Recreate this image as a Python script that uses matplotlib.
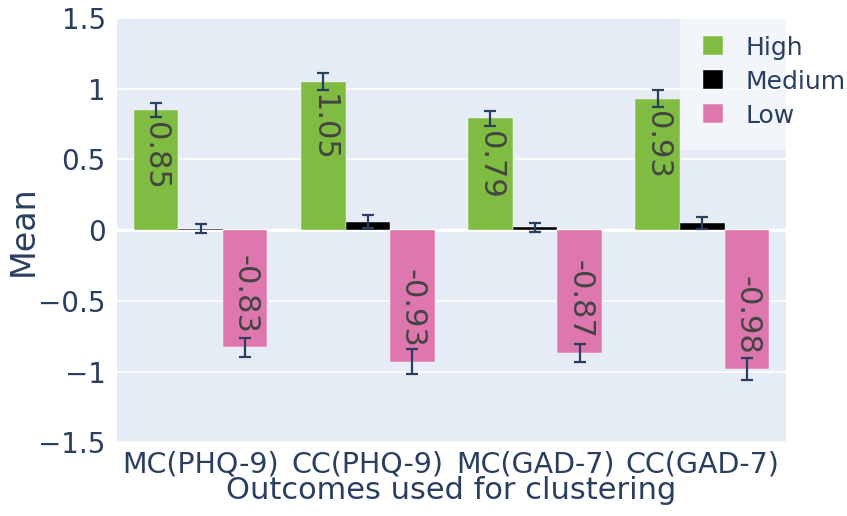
import numpy as np
import matplotlib.pyplot as plt
from matplotlib.patches import Rectangle

plt.rcParams['font.family'] = ['DejaVu Sans']

# data
categories = ["MC(PHQ-9)", "CC(PHQ-9)", "MC(GAD-7)", "CC(GAD-7)"]
series = ["High", "Medium", "Low"]
high = [0.85, 1.05, 0.79, 0.93]
medium = [0.01, 0.06, 0.02, 0.05]
low = [-0.83, -0.93, -0.87, -0.98]
high_err = [0.05, 0.06, 0.05, 0.06]
medium_err = [0.03, 0.045, 0.03, 0.045]
low_err = [0.07, 0.09, 0.065, 0.078]

colors = ["#7fbc41", "#000000", "#de77ae"]
fg = "#2a3f5f"

fig = plt.figure(figsize=(8.47, 5.16), dpi=100)
ax = fig.add_axes([0.138, 0.143, 0.79, 0.822])
ax.set_facecolor("#e5ecf6")

x = np.arange(len(categories))
w = 0.8 / 3
vals = [high, medium, low]
errs = [high_err, medium_err, low_err]
for i, (name, v, e, c) in enumerate(zip(series, vals, errs, colors)):
    pos = x + (i - 1) * w
    ax.bar(pos, v, width=w, color=c, label=name, zorder=2,
           edgecolor="white", linewidth=0.3)
    ax.errorbar(pos, v, yerr=e, fmt="none", ecolor=fg, elinewidth=1.6,
                capsize=4.5, capthick=1.6, zorder=3)
    if name != "Medium":
        for px, pv in zip(pos, v):
            if pv > 0:
                ax.annotate(f"{pv:.2f}", (px, pv), xytext=(0, -9),
                            textcoords="offset points", rotation=270,
                            ha="center", va="top", fontsize=22,
                            color="#444444", zorder=4)
            else:
                ax.annotate(f"{pv:.2f}", (px, pv), xytext=(0, 10),
                            textcoords="offset points", rotation=270,
                            ha="center", va="bottom", fontsize=22,
                            color="#444444", zorder=4)

ax.set_xlim(-0.5, 3.5)
ax.set_ylim(-1.5, 1.5)
ax.set_yticks([-1.5, -1, -0.5, 0, 0.5, 1, 1.5])
ax.set_yticklabels(["\u22121.5", "\u22121", "\u22120.5", "0", "0.5", "1", "1.5"])
ax.set_xticks(x)
ax.set_xticklabels(categories)
ax.tick_params(length=0, labelcolor=fg)
ax.tick_params(axis="y", labelsize=20, pad=8)
ax.tick_params(axis="x", labelsize=20.5, pad=6)
ax.grid(axis="y", color="white", linewidth=1.2, zorder=0)
ax.axhline(0, color="white", linewidth=2.5, zorder=1)
for s in ax.spines.values():
    s.set_visible(False)
ax.set_axisbelow(True)

ax.set_ylabel("Mean", fontsize=24, color=fg, labelpad=-1)
ax.set_xlabel("Outcomes used for clustering", fontsize=22, color=fg, labelpad=-2)

# legend box
ax.add_patch(Rectangle((0.842, 0.69), 0.16, 0.315, transform=ax.transAxes,
                       facecolor="white", alpha=0.5, edgecolor="none",
                       zorder=5, clip_on=False))
leg = ax.legend(loc="upper left", bbox_to_anchor=(0.85, 1.0), frameon=False,
                fontsize=18, handlelength=0.8, handleheight=0.8,
                labelspacing=0.4, handletextpad=0.9, borderaxespad=0.3)
for t in leg.get_texts():
    t.set_color(fg)
leg.set_zorder(6)

plt.savefig("out.png", dpi=100)
